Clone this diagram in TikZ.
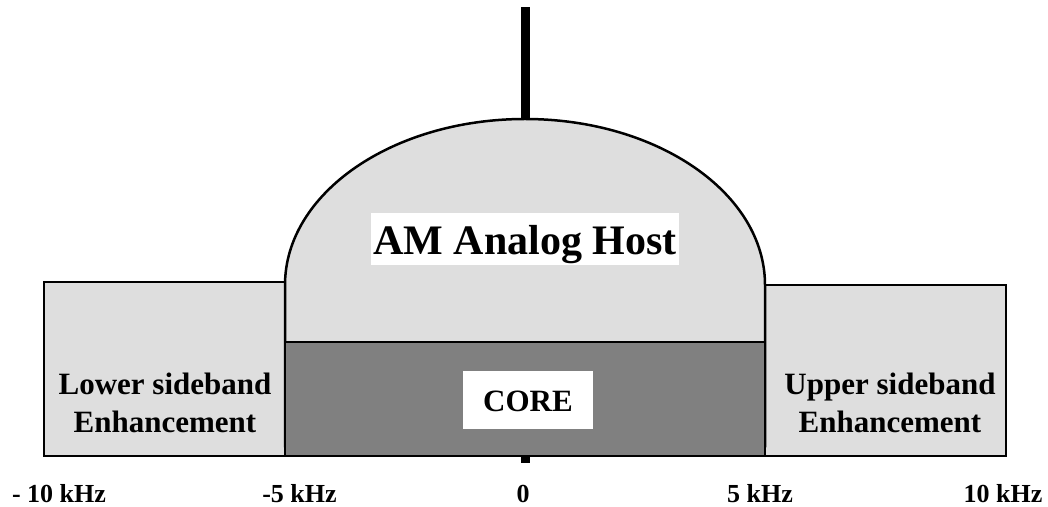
\documentclass[tikz,border=0pt]{standalone}
\usepackage{fontspec}
\setmainfont{Liberation Serif}
\usetikzlibrary{positioning}
\definecolor{bandgray}{RGB}{222,222,222}
\definecolor{coregray}{RGB}{128,128,128}

\begin{document}
\begin{tikzpicture}[x=1pt,y=1pt,
  band/.style={draw,line width=2.5pt,fill=bandgray,inner sep=0pt},
  tag/.style={fill=white,inner ysep=0pt,anchor=base},
  side/.style={font=\bfseries\fontsize{31}{38}\selectfont,align=center},
  freq/.style={font=\bfseries\fontsize{26}{30}\selectfont,anchor=base}]
  \useasboundingbox (0,0) rectangle (1048,506);

  % sidebands
  \node[band,minimum width=241pt,minimum height=174pt] (lower) at (164.5,137) {};
  \node[band,minimum width=241pt,minimum height=171pt] (upper) at (885.5,135.5) {};

  % analog host
  \draw[line width=2.5pt,fill=bandgray] (285,60) -- (285,221)
     arc[start angle=180,end angle=0,x radius=240,y radius=166] -- (765,60) -- cycle;
  \coordinate (top) at (525,387);
  \coordinate (mast) at (525,499);
  \draw[line width=9pt] (top) -- (mast);

  % core
  \draw[line width=9pt] (525,50) -- (525,43);
  \node[band,fill=coregray,minimum width=480pt,minimum height=114pt] (core) at (525,107) {};

  \node[tag,font=\bfseries\fontsize{42}{50}\selectfont,inner xsep=2pt,text height=42pt,text depth=10pt] (host) at (525,251) {AM Analog Host};
  \node[tag,font=\bfseries\fontsize{31}{38}\selectfont,inner xsep=20pt,text height=40pt,text depth=18pt] (corelbl) at (528,95) {CORE};

  \node[side] (lowlbl) at (165,103) {Lower sideband\\Enhancement};
  \node[side] (uplbl)  at (890,103) {Upper sideband\\Enhancement};

  \node[freq] (m10) at (59,4)    {- 10 kHz};
  \node[freq] (m5)  at (299.5,4) {-5 kHz};
  \node[freq] (f0)  at (523,4)   {0};
  \node[freq] (p5)  at (760,4)   {5 kHz};
  \node[freq] (p10) at (1003,4)  {10 kHz};
\end{tikzpicture}
\end{document}
